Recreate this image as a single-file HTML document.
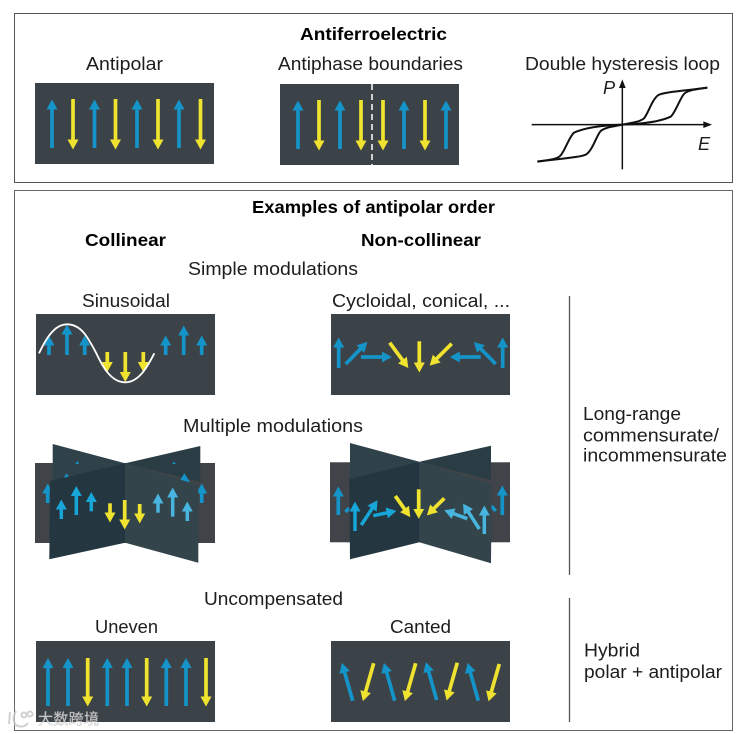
<!DOCTYPE html>
<html><head><meta charset="utf-8"><style>
html,body{margin:0;padding:0;background:#fff;width:752px;height:734px;overflow:hidden}
svg{display:block}
text{font-family:"Liberation Sans","Noto Sans CJK SC",sans-serif;font-size:18.2px;fill:#1d1d1d}
.b{font-weight:bold;font-size:17.5px;fill:#000}
.blue{stroke:#1494c8;stroke-width:3.7;marker-end:url(#mb);fill:none}
.yel{stroke:#f0e32f;stroke-width:3.7;marker-end:url(#my);fill:none}
.cy{stroke:#18a6d8;stroke-width:3.5;marker-end:url(#mc);fill:none}
.lt{stroke:#48b5de;stroke-width:3.5;marker-end:url(#ml);fill:none}
</style></head><body>
<svg width="752" height="734" viewBox="0 0 752 734" xmlns="http://www.w3.org/2000/svg">
<defs>
<marker id="mb" markerUnits="userSpaceOnUse" markerWidth="12" markerHeight="12" refX="0.5" refY="6" orient="auto"><path d="M0,0.5 L10,6 L0,11.5Z" fill="#1494c8"/></marker>
<marker id="my" markerUnits="userSpaceOnUse" markerWidth="12" markerHeight="12" refX="0.5" refY="6" orient="auto"><path d="M0,0.5 L10,6 L0,11.5Z" fill="#f0e32f"/></marker>
<marker id="mc" markerUnits="userSpaceOnUse" markerWidth="12" markerHeight="12" refX="0.5" refY="6" orient="auto"><path d="M0,0.5 L10,6 L0,11.5Z" fill="#18a6d8"/></marker>
<marker id="ml" markerUnits="userSpaceOnUse" markerWidth="12" markerHeight="12" refX="0.5" refY="6" orient="auto"><path d="M0,0.5 L10,6 L0,11.5Z" fill="#48b5de"/></marker>
</defs>

<!-- boxes -->
<rect x="14.5" y="13.5" width="718" height="169" fill="none" stroke="#555" stroke-width="1"/>
<rect x="14.5" y="190.5" width="718" height="540" fill="none" stroke="#666" stroke-width="1"/>

<!-- top labels -->
<text class="b" x="300" y="40" textLength="147" lengthAdjust="spacingAndGlyphs">Antiferroelectric</text>
<text x="86" y="70" textLength="77" lengthAdjust="spacingAndGlyphs">Antipolar</text>
<text x="278" y="70" textLength="185" lengthAdjust="spacingAndGlyphs">Antiphase boundaries</text>
<text x="525" y="70" textLength="195" lengthAdjust="spacingAndGlyphs">Double hysteresis loop</text>

<!-- panel 1 -->
<rect x="35" y="83" width="179" height="81" fill="#3c4348"/>
<line class="blue" x1="52" y1="148" x2="52" y2="109"/>
<line class="yel" x1="73" y1="99" x2="73" y2="140"/>
<line class="blue" x1="94.5" y1="148" x2="94.5" y2="109"/>
<line class="yel" x1="115.5" y1="99" x2="115.5" y2="140"/>
<line class="blue" x1="137" y1="148" x2="137" y2="109"/>
<line class="yel" x1="158" y1="99" x2="158" y2="140"/>
<line class="blue" x1="179" y1="148" x2="179" y2="109"/>
<line class="yel" x1="200.5" y1="99" x2="200.5" y2="140"/>

<!-- panel 2 -->
<rect x="280" y="84" width="179" height="81" fill="#3c4348"/>
<line class="blue" x1="298" y1="149" x2="298" y2="110"/>
<line class="yel" x1="319" y1="100" x2="319" y2="141"/>
<line class="blue" x1="340" y1="149" x2="340" y2="110"/>
<line class="yel" x1="361" y1="100" x2="361" y2="141"/>
<line class="yel" x1="383" y1="100" x2="383" y2="141"/>
<line class="blue" x1="404" y1="149" x2="404" y2="110"/>
<line class="yel" x1="425" y1="100" x2="425" y2="141"/>
<line class="blue" x1="446" y1="149" x2="446" y2="110"/>
<line x1="372" y1="84" x2="372" y2="165" stroke="#fff" stroke-width="1.5" stroke-dasharray="6 4"/>

<!-- hysteresis -->
<g transform="translate(500,50) scale(0.33333)">
<line x1="95" y1="224" x2="620" y2="224" stroke="#111" stroke-width="4.5"/>
<path d="M636,224 L610,214 L610,234Z" fill="#111"/>
<line x1="367" y1="358" x2="367" y2="100" stroke="#111" stroke-width="4.5"/>
<path d="M367,88 L357,114 L377,114Z" fill="#111"/>
<g fill="none" stroke="#111" stroke-width="6">
<path d="M367,224 C400,218 420,215 432,205 C445,190 455,150 475,135 C495,125 560,122 622,113"/>
<path d="M367,224 C420,222 480,215 512,200 C525,190 540,145 552,132 C562,120 590,118 622,113"/>
<g transform="rotate(180 367 224)">
<path d="M367,224 C400,218 420,215 432,205 C445,190 455,150 475,135 C495,125 560,122 622,113"/>
<path d="M367,224 C420,222 480,215 512,200 C525,190 540,145 552,132 C562,120 590,118 622,113"/>
</g></g></g>
<text x="603" y="94" style="font-style:italic">P</text>
<text x="698" y="150" style="font-style:italic">E</text>

<!-- section labels -->
<text class="b" x="252" y="213" textLength="243" lengthAdjust="spacingAndGlyphs">Examples of antipolar order</text>
<text class="b" x="85" y="246" textLength="81" lengthAdjust="spacingAndGlyphs">Collinear</text>
<text class="b" x="361" y="246" textLength="120" lengthAdjust="spacingAndGlyphs">Non-collinear</text>
<text x="188" y="275" textLength="170" lengthAdjust="spacingAndGlyphs">Simple modulations</text>
<text x="82" y="307" textLength="88" lengthAdjust="spacingAndGlyphs">Sinusoidal</text>
<text x="332" y="307" textLength="178" lengthAdjust="spacingAndGlyphs">Cycloidal, conical, ...</text>
<text x="183" y="432" textLength="180" lengthAdjust="spacingAndGlyphs">Multiple modulations</text>
<text x="204" y="605" textLength="139" lengthAdjust="spacingAndGlyphs">Uncompensated</text>
<text x="95" y="633" textLength="63" lengthAdjust="spacingAndGlyphs">Uneven</text>
<text x="390" y="633" textLength="61" lengthAdjust="spacingAndGlyphs">Canted</text>
<text x="583" y="420" textLength="98" lengthAdjust="spacingAndGlyphs">Long-range</text>
<text x="583" y="441.5" textLength="136" lengthAdjust="spacingAndGlyphs">commensurate/</text>
<text x="583" y="461.5" textLength="144" lengthAdjust="spacingAndGlyphs">incommensurate</text>
<text x="584" y="656.5" textLength="56" lengthAdjust="spacingAndGlyphs">Hybrid</text>
<text x="584" y="678" textLength="138" lengthAdjust="spacingAndGlyphs">polar + antipolar</text>
<line x1="569.5" y1="296" x2="569.5" y2="575" stroke="#555" stroke-width="1.3"/>
<line x1="569.5" y1="598" x2="569.5" y2="722" stroke="#555" stroke-width="1.3"/>

<!-- panel sinusoidal -->
<rect x="36" y="314" width="179" height="81" fill="#3c4348"/>
<line class="blue" x1="49" y1="355" x2="49" y2="345"/>
<line class="blue" x1="67" y1="355" x2="67" y2="334"/>
<line class="blue" x1="84.7" y1="355" x2="84.7" y2="345"/>
<line class="yel" x1="107.3" y1="352" x2="107.3" y2="362.5"/>
<line class="yel" x1="125.3" y1="352" x2="125.3" y2="372.5"/>
<line class="yel" x1="143.3" y1="352" x2="143.3" y2="362.5"/>
<line class="blue" x1="165.7" y1="355" x2="165.7" y2="345"/>
<line class="blue" x1="183.7" y1="355" x2="183.7" y2="335"/>
<line class="blue" x1="201.7" y1="355" x2="201.7" y2="345"/>
<g transform="translate(20,300) scale(0.33333)"><path d="M57,160 C85,100 110,73 141,73 C185,73 205,115 229,160 C250,205 275,247 316,247 C355,247 380,205 403,160" fill="none" stroke="#fff" stroke-width="5.5"/></g>

<!-- panel cycloidal -->
<rect x="331" y="314" width="179" height="81" fill="#3c4348"/>
<line class="blue" x1="338.7" y1="368" x2="338.7" y2="347"/>
<line class="blue" x1="345.7" y1="364" x2="360.7" y2="348.7"/>
<line class="blue" x1="361" y1="357" x2="382.3" y2="357"/>
<line class="yel" x1="389.7" y1="342.7" x2="402.7" y2="360.4"/>
<line class="yel" x1="419.3" y1="341.3" x2="419.3" y2="363"/>
<line class="yel" x1="451.7" y1="343.7" x2="436.4" y2="358.9"/>
<line class="blue" x1="480.7" y1="357" x2="459.3" y2="357"/>
<line class="blue" x1="495.7" y1="364" x2="480.6" y2="348.7"/>
<line class="blue" x1="502.7" y1="368" x2="502.7" y2="347"/>

<!-- multi collinear -->
<rect x="35" y="463" width="180" height="80" fill="#404347"/>
<polygon points="52.7,444 125,463.3 52.7,482" fill="#2f424a"/>
<polygon points="200.3,446 125,463.3 200.3,482" fill="#2a3d45"/>
<line class="blue" x1="47.7" y1="503" x2="47.7" y2="493"/>
<line class="blue" x1="201.7" y1="503" x2="201.7" y2="493"/>
<path d="M66.7,473.3 L61,482 L72,482Z" fill="#1494c8"/>
<path d="M184.3,473.3 L179,482 L190,482Z" fill="#1494c8"/>
<path d="M77.3,461 L75.5,464 L79,464Z" fill="#1494c8"/>
<path d="M174,461.5 L172.3,464 L175.7,464Z" fill="#1494c8"/>
<polygon points="50,481 125,463.3 125,542.7 49.3,559.3" fill="#243640"/>
<polygon points="125,463.3 198.3,485 198.3,562.7 125,542.7" fill="#33444b"/>
<line class="cy" x1="61.3" y1="519" x2="61.3" y2="509"/>
<line class="cy" x1="76.3" y1="515" x2="76.3" y2="495.5"/>
<line class="cy" x1="91.3" y1="511.3" x2="91.3" y2="501.5"/>
<line class="yel" x1="110" y1="503.3" x2="110" y2="513"/>
<line class="yel" x1="124.7" y1="500" x2="124.7" y2="520"/>
<line class="yel" x1="139.7" y1="504" x2="139.7" y2="514"/>
<line class="lt" x1="158" y1="512.7" x2="158" y2="503"/>
<line class="lt" x1="172.7" y1="516.7" x2="172.7" y2="497"/>
<line class="lt" x1="187.3" y1="521" x2="187.3" y2="511"/>

<!-- multi non-collinear -->
<rect x="330" y="462.3" width="180" height="80" fill="#404347"/>
<polygon points="350,443 419.3,461.7 350,480" fill="#2f424a"/>
<polygon points="491,445.7 419.3,461.7 491,480" fill="#2a3d45"/>
<line class="blue" x1="338.3" y1="515" x2="338.3" y2="496"/>
<line class="blue" x1="502.3" y1="515" x2="502.3" y2="495"/>
<line x1="345.5" y1="512" x2="349" y2="508" stroke="#1494c8" stroke-width="3.5"/>
<line x1="491.3" y1="506" x2="495.7" y2="511" stroke="#1494c8" stroke-width="3.5"/>
<polygon points="349.3,479 419.3,461.7 419.3,542.3 350,559.3" fill="#243640"/>
<polygon points="419.3,461.7 491.7,484.3 491,563.3 419.3,542.3" fill="#33444b"/>
<line class="cy" x1="355" y1="531" x2="355" y2="511"/>
<line class="cy" x1="361.3" y1="525" x2="372.3" y2="508.2"/>
<line class="cy" x1="373.3" y1="515.7" x2="387.2" y2="512.8"/>
<line class="yel" x1="395.3" y1="496" x2="404.8" y2="509.4"/>
<line class="yel" x1="418.7" y1="489.3" x2="418.7" y2="509.3"/>
<line class="yel" x1="444.3" y1="498.3" x2="433.7" y2="508.7"/>
<line class="lt" x1="467.3" y1="518.7" x2="453.2" y2="513.5"/>
<line class="lt" x1="479.3" y1="529" x2="468.2" y2="511.6"/>
<line class="lt" x1="484.3" y1="534" x2="484.3" y2="515"/>

<!-- panel uneven -->
<rect x="36" y="641" width="179" height="81" fill="#3c4348"/>
<line class="blue" x1="48" y1="706" x2="48" y2="667.5"/>
<line class="blue" x1="68" y1="706" x2="68" y2="667.5"/>
<line class="yel" x1="87.7" y1="658" x2="87.7" y2="697"/>
<line class="blue" x1="107.3" y1="706" x2="107.3" y2="667.5"/>
<line class="blue" x1="127" y1="706" x2="127" y2="667.5"/>
<line class="yel" x1="146.7" y1="658" x2="146.7" y2="697"/>
<line class="blue" x1="166.3" y1="706" x2="166.3" y2="667.5"/>
<line class="blue" x1="186" y1="706" x2="186" y2="667.5"/>
<line class="yel" x1="206" y1="658" x2="206" y2="697"/>

<!-- panel canted -->
<rect x="331" y="641" width="179" height="81" fill="#3c4348"/>
<line class="blue" x1="352.7" y1="700.7" x2="344.5" y2="672"/>
<line class="yel" x1="373.7" y1="663.3" x2="365.5" y2="692"/>
<line class="blue" x1="394.7" y1="700.7" x2="386.5" y2="672"/>
<line class="yel" x1="415.7" y1="663.3" x2="407.5" y2="692"/>
<line class="blue" x1="436.7" y1="700" x2="428.5" y2="671.3"/>
<line class="yel" x1="457.3" y1="662.7" x2="449.2" y2="691.3"/>
<line class="blue" x1="478.3" y1="700.7" x2="470.2" y2="672"/>
<line class="yel" x1="499.3" y1="664" x2="491.2" y2="692.3"/>

<!-- watermark -->
<g fill="none" stroke="#c9c9c9" stroke-width="2" opacity="0.85">
<path d="M10,712 L9,724 M16,711 C13,716 13,720 15,724 C19,728 25,727 28,723"/>
<circle cx="24" cy="715" r="2.5"/><circle cx="30" cy="714" r="2.5"/>
</g>
<text x="38" y="724" textLength="61" lengthAdjust="spacing" style="font-size:15px;fill:#fff;fill-opacity:.7;stroke:#aaa;stroke-width:.35;font-family:'Noto Sans CJK SC','Liberation Sans',sans-serif">大数跨境</text>
</svg>
</body></html>
